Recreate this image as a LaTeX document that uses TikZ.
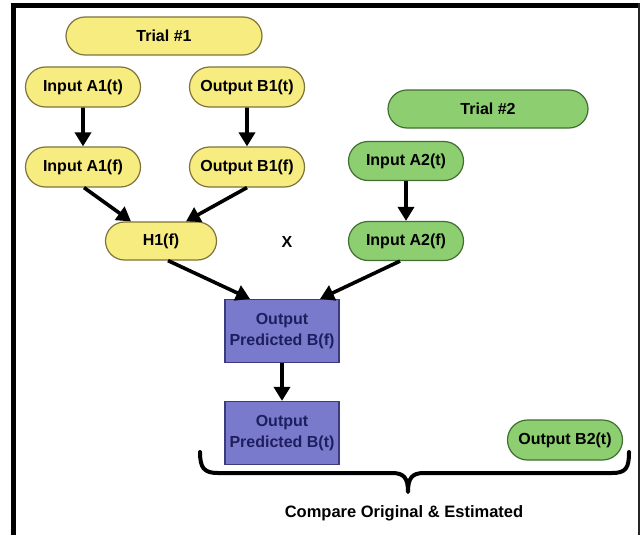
\documentclass[tikz,border=0pt]{standalone}
\usepackage{fontspec}
\setmainfont{Liberation Sans}
\usetikzlibrary{shapes.misc,arrows.meta}
\definecolor{yfill}{RGB}{247,236,128}
\definecolor{ydraw}{RGB}{125,115,60}
\definecolor{gfill}{RGB}{140,206,112}
\definecolor{gdraw}{RGB}{65,110,50}
\definecolor{bfill}{RGB}{122,122,204}
\definecolor{bdraw}{RGB}{60,60,125}
\definecolor{btext}{RGB}{30,30,95}
\tikzset{
  lbl/.style={font=\fontsize{16}{20}\selectfont\bfseries},
  ypill/.style={rounded rectangle, draw=ydraw, fill=yfill, line width=1.2pt, minimum width=115pt, minimum height=40pt, inner sep=0pt, lbl},
  gpill/.style={rounded rectangle, draw=gdraw, fill=gfill, line width=1.2pt, minimum width=115pt, minimum height=39pt, inner sep=0pt, lbl},
  pbox/.style={rectangle, draw=bdraw, fill=bfill, line width=1.2pt, minimum width=114pt, minimum height=63pt, inner sep=0pt, align=center, text=btext, font=\fontsize{16}{21}\selectfont\bfseries},
  arr/.style={line width=3.6pt, -{Triangle[length=14pt,width=16pt]}},
}
\begin{document}
\begin{tikzpicture}[x=1pt,y=-1pt]
\useasboundingbox (0,0) rectangle (642,535);
\fill[white] (0,0) rectangle (642,535);
% frame
\draw[line width=5pt] (13,535) -- (13,5.5) -- (640,5.5);
\draw[line width=2pt, black!85] (639,3) -- (639,535);
% nodes
\node[ypill, minimum width=196pt, minimum height=38pt] (t1) at (164,36) {Trial \#1};
\node[ypill] (ia1t) at (83,87) {Input A1(t)};
\node[ypill] (ob1t) at (247,87) {Output B1(t)};
\node[gpill, minimum width=200pt, minimum height=38pt] (t2) at (488,109) {Trial \#2};
\node[ypill] (ia1f) at (83,167) {Input A1(f)};
\node[ypill] (ob1f) at (247,167) {Output B1(f)};
\node[gpill] (ia2t) at (406,161) {Input A2(t)};
\node[ypill, minimum width=111pt, minimum height=38pt] (h1) at (161,241) {H1(f)};
\node[lbl] (x) at (287,242) {X};
\node[gpill] (ia2f) at (406,241) {Input A2(f)};
\node[pbox] (pbf) at (282,331) {Output\\Predicted B(f)};
\node[pbox] (pbt) at (282,433) {Output\\Predicted B(t)};
\node[gpill, minimum height=40pt] (ob2t) at (565,440) {Output B2(t)};
\node[lbl, font=\fontsize{16.5}{20}\selectfont\bfseries] (cmp) at (404,513) {Compare Original \& Estimated};
% arrows
\draw[arr] (ia1t) -- (ia1f);
\draw[arr] (ob1t) -- (ob1f);
\draw[arr] (ia2t) -- (ia2f);
\draw[arr] ([xshift=1pt]ia1f.south) -- ([xshift=-30pt]h1.north);
\draw[arr] (ob1f.south) -- ([xshift=25pt]h1.north);
\draw[arr] ([xshift=7pt]h1.south) -- ([xshift=-32pt]pbf.north);
\draw[arr] ([xshift=-6pt]ia2f.south) -- ([xshift=38pt]pbf.north);
\draw[arr] (pbf) -- (pbt);
% brace
\draw[line width=4pt, line cap=round, line join=round]
  (200,452) .. controls (200,468) and (204,473) .. (218,473) -- (392,473)
  .. controls (404,473) and (408,478) .. (408,492)
  .. controls (408,478) and (412,473) .. (424,473) -- (612,473)
  .. controls (626,473) and (629,468) .. (629,452);
\end{tikzpicture}
\end{document}
